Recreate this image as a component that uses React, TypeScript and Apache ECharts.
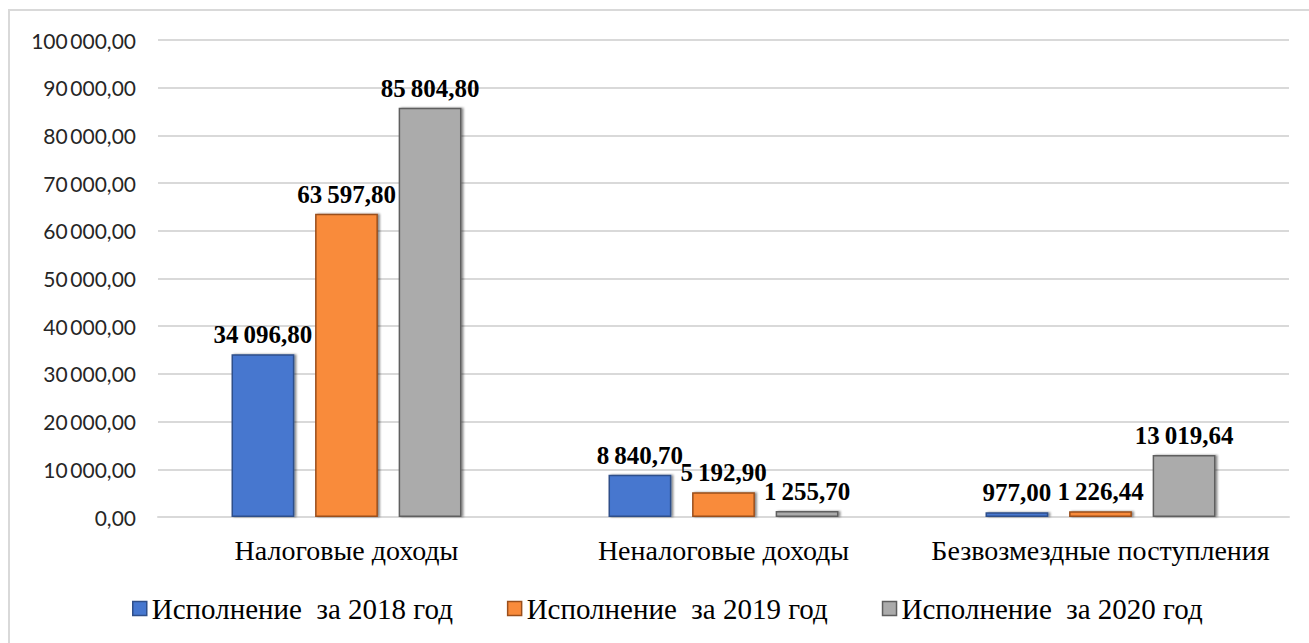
import React, { useEffect, useRef } from "react";
import * as echarts from "echarts";

const categories = ["Налоговые доходы", "Неналоговые доходы", "Безвозмездные поступления"];
const seriesNames = ["Исполнение  за 2018 год", "Исполнение  за 2019 год", "Исполнение  за 2020 год"];
const values2018 = [34096.8, 8840.7, 977.0];
const values2019 = [63597.8, 5192.9, 1226.44];
const values2020 = [85804.8, 1255.7, 13019.64];
const colors = ["#4677CF", "#F98B3B", "#ABABAB"];
const borderColors = ["#2F4F8A", "#9A4F1C", "#5E5E5E"];

function fmt(v: number): string {
  const s = v.toFixed(2);
  const [i, d] = s.split(".");
  const withSpaces = i.replace(/\B(?=(\d{3})+(?!\d))/g, "\u2009");
  return withSpaces + "," + d;
}

export default function App() {
  const ref = useRef<HTMLDivElement>(null);
  useEffect(() => {
    if (!ref.current) return;
    const chart = echarts.init(ref.current, undefined, { renderer: "svg" });
    const data = [values2018, values2019, values2020];
    chart.setOption({
      animation: false,
      backgroundColor: "#ffffff",
      graphic: [
        {
          type: "rect",
          shape: { x: 9, y: 10, width: 1320, height: 660 },
          style: { fill: "none", stroke: "#D9D9D9", lineWidth: 2 },
          z: -1,
        },
      ],
      grid: { left: 158, right: 20, top: 40, bottom: 126 },
      legend: {
        top: 589,
        left: 127,
        itemWidth: 14,
        itemHeight: 14,
        itemGap: 54,
        icon: "rect",
        textStyle: { fontFamily: "Liberation Serif", fontSize: 29, color: "#000" },
        data: seriesNames.map((n, i) => ({
          name: n,
          itemStyle: { color: colors[i], borderColor: borderColors[i], borderWidth: 1.5 },
        })),
      },
      xAxis: {
        type: "category",
        data: categories,
        axisLine: { show: true, lineStyle: { color: "#D9D9D9", width: 2 } },
        axisTick: { show: false },
        axisLabel: {
          interval: 0,
          fontFamily: "Liberation Serif",
          fontSize: 28,
          color: "#000",
          margin: 19,
        },
      },
      yAxis: {
        type: "value",
        min: 0,
        max: 100000,
        interval: 10000,
        axisLine: { show: false },
        axisTick: { show: false },
        splitLine: { lineStyle: { color: "#D9D9D9", width: 2 } },
        axisLabel: {
          fontFamily: "Lato",
          fontSize: 21,
          color: "#262626",
          margin: 22,
          formatter: (v: number) => fmt(v),
        },
      },
      series: seriesNames.map((n, i) => ({
        name: n,
        type: "bar",
        data: data[i],
        barGap: "33%",
        barCategoryGap: "39%",
        itemStyle: {
          color: colors[i],
          borderColor: borderColors[i],
          borderWidth: 1.5,
          shadowColor: "rgba(0,0,0,0.45)",
          shadowBlur: 2,
          shadowOffsetX: 2,
          shadowOffsetY: 0,
        },
        label: {
          show: true,
          position: "top",
          distance: 7,
          fontFamily: "Liberation Serif",
          fontWeight: "bold",
          fontSize: 25,
          color: "#000",
          formatter: (p: any) => fmt(p.value),
        },
        labelLayout: { hideOverlap: false },
      })),
    });
    return () => chart.dispose();
  }, []);
  return (
    <div
      ref={ref}
      style={{ position: "fixed", left: 0, top: 0, width: 1309, height: 643 }}
    />
  );
}
